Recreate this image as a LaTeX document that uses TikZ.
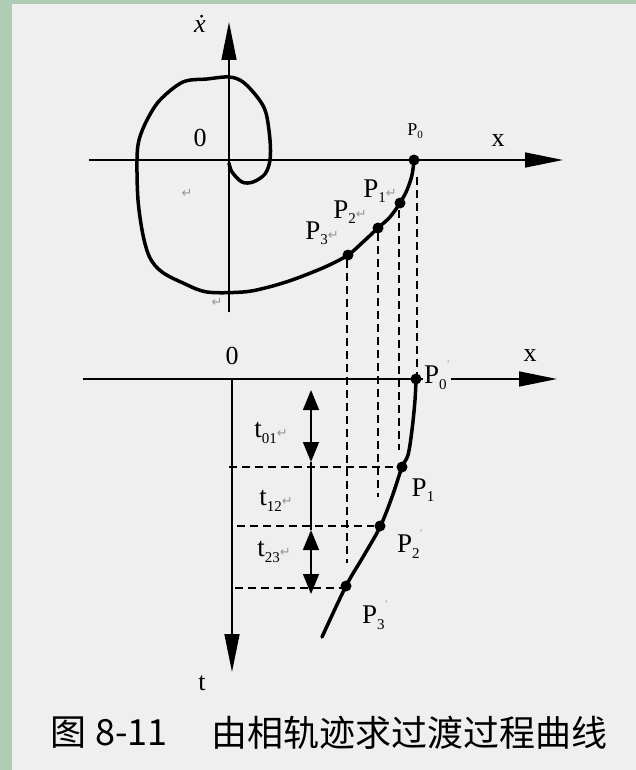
\documentclass[tikz,border=0pt]{standalone}
\usepackage{fontspec}
\setmainfont{Liberation Serif}
\newfontfamily\cjkfont{Noto Sans CJK SC}
\newfontfamily\markfont{DejaVu Sans}
\usetikzlibrary{arrows.meta}

\definecolor{panel}{RGB}{239,239,239}
\definecolor{leaf}{RGB}{176,204,180}
\definecolor{markgray}{RGB}{150,150,150}
\newcommand{\retmark}{{\markfont\fontsize{13}{13}\selectfont\color{markgray}↵}}
\newcommand{\tickmark}{\raisebox{0.6em}{\color{markgray}\fontsize{10}{10}\selectfont '}}
\newcommand{\low}[1]{\raisebox{-0.2em}{\fontsize{15}{15}\selectfont #1}}

\tikzset{
  axis/.style={line width=1.5pt, -{Triangle[length=38pt,width=15pt]}},
  traj/.style={line width=3.5pt, line join=round, line cap=round},
  guide/.style={line width=1.5pt, dash pattern=on 8pt off 5pt},
  span/.style={line width=1.5pt, {Triangle[length=20pt,width=16pt]}-{Triangle[length=20pt,width=16pt]}},
  dot/.style={circle, fill, inner sep=0pt, minimum size=11pt},
  lbl/.style={font=\fontsize{26}{26}\selectfont, inner sep=1pt},
  sublbl/.style={font=\fontsize{27}{27}\selectfont, inner sep=1pt},
}

\begin{document}
\begin{tikzpicture}[x=1pt,y=-1pt]
  % background
  \fill[leaf] (0,0) rectangle (636,770);
  \fill[panel] (12,4) rectangle (636,770);
  \useasboundingbox (0,0) rectangle (636,770);

  % Phase plane
  \draw[axis] (89,160) -- (563,160);
  \draw[axis] (229,312) -- (229,22);
  \node[lbl, font=\fontsize{26}{26}\selectfont\itshape] (xdot) at (200,24) {ẋ};
  \node[lbl] (o1) at (200,138) {0};
  \node[lbl] (x1) at (498,141) {x};
  \draw[traj] plot[smooth, tension=0.55] coordinates {
    (414,160) (412,175) (407,190) (400,203) (390,217) (378,228) (363,242)
    (348,255) (325,267) (292,280) (265,288) (243,292) (207,292) (183,283)
    (162,272) (150,258) (143,235) (138,200) (137,160) (139,140) (147,120)
    (160,100) (183,82) (207,79) (229,77) (243,82) (258,98) (266,113)
    (270,140) (270,160) (265,174) (253,182) (242,182) (232,172) (229,163)};
  \node[dot] (P0) at (414,160) {};
  \node[dot] (P1) at (400,203) {};
  \node[dot] (P2) at (378,228) {};
  \node[dot] (P3) at (348,255) {};
  \node[lbl, font=\fontsize{18}{18}\selectfont] (p0lab) at (415,131) {P\raisebox{-0.2em}{\fontsize{11}{11}\selectfont 0}};
  \node[sublbl] (p1lab) at (380,191) {P\low{1}\retmark};
  \node[sublbl] (p2lab) at (350,212) {P\low{2}\retmark};
  \node[sublbl] (p3lab) at (322,233) {P\low{3}\retmark};
  \node[inner sep=0pt] (m1) at (187,193) {\retmark};
  \node[inner sep=0pt] (m2) at (217,302) {\retmark};

  % Transient response
  \draw[axis] (83,379) -- (557,379);
  \draw[axis] (232,379) -- (232,672);
  \node[lbl] (o2) at (232,356) {0};
  \node[lbl] (x2) at (530,356) {x};
  \node[lbl] (tlab) at (202,683) {t};
  \draw[traj] plot[smooth, tension=0.55] coordinates {
    (416,379) (415,400) (412,430) (408,455) (402,467) (392,497)
    (380,527) (363,557) (346,586) (322,637)};
  \node[dot] (Q0) at (416,379) {};
  \node[dot] (Q1) at (402,467) {};
  \node[dot] (Q2) at (380,526) {};
  \node[dot] (Q3) at (346,586) {};
  \node[sublbl, fill=panel] (q0lab) at (437,375) {P\low{0}\tickmark};
  \node[sublbl] (q1lab) at (423,490) {P\low{1}};
  \node[sublbl] (q2lab) at (410,544) {P\low{2}\tickmark};
  \node[sublbl] (q3lab) at (375,615) {P\low{3}\tickmark};

  % projections
  \coordinate (g0) at (417,177);
  \coordinate (g1) at (399,210);
  \coordinate (g2) at (378,233);
  \coordinate (g3) at (347,260);
  \coordinate (h1) at (399,450);
  \coordinate (h2) at (378,497);
  \coordinate (h3) at (347,563);
  \draw[guide] (g0) -- (g0 |- Q0);
  \draw[guide] (g1) -- (h1);
  \draw[guide] (g2) -- (h2);
  \draw[guide] (g3) -- (h3);
  \coordinate (t1) at (229,467);
  \coordinate (t2) at (237,526);
  \coordinate (t3) at (235,588);
  \draw[guide] (t1) -- (Q1);
  \draw[guide] (t2) -- (Q2);
  \draw[guide] (t3) -- (t3 -| Q3);

  % time intervals
  \coordinate (s0) at (311,390);
  \coordinate (s1) at (311,462);
  \coordinate (s2) at (311,530);
  \coordinate (s3) at (311,594);
  \draw[span] (s0) -- (s1);
  \draw[line width=1.5pt] (s1) -- (s2);
  \draw[span] (s2) -- (s3);
  \node[sublbl] (t01) at (271,433) {t\low{01}\retmark};
  \node[sublbl] (t12) at (276,501) {t\low{12}\retmark};
  \node[sublbl] (t23) at (274,552) {t\low{23}\retmark};

  % caption
  \node[font=\cjkfont\fontsize{36}{36}\selectfont, inner sep=0pt] (fig) at (68,733) {图};
  \node[font=\cjkfont\fontsize{36}{36}\selectfont, inner sep=0pt, anchor=west] (num) at (95,733) {8-11};
  \node[font=\cjkfont\fontsize{36}{36}\selectfont, inner sep=0pt, anchor=west] (title) at (211,733) {由相轨迹求过渡过程曲线};
\end{tikzpicture}
\end{document}
